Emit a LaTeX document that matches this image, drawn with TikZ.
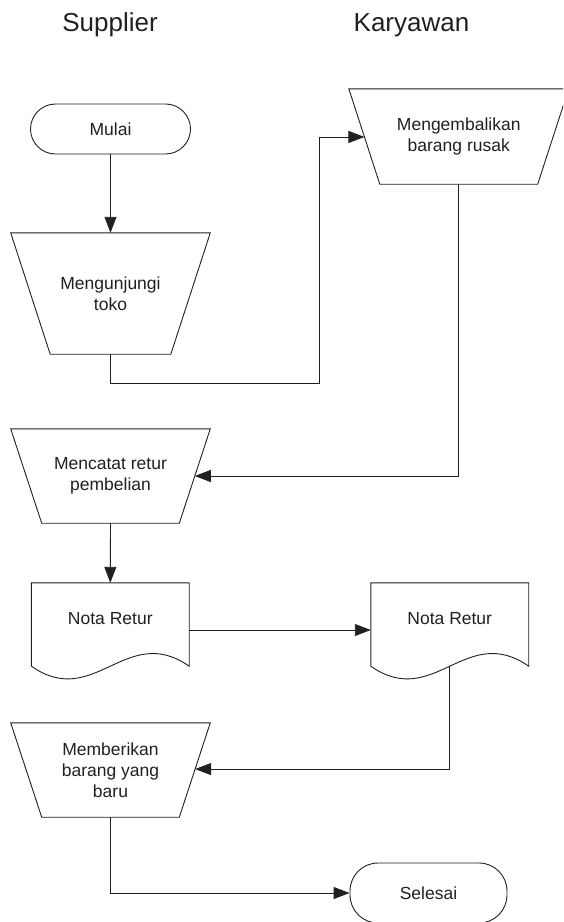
\documentclass[tikz,border=0pt]{standalone}
\usepackage{fontspec}
\setmainfont{Liberation Sans}
\usetikzlibrary{calc,arrows.meta}

\definecolor{ink}{HTML}{231F20}

\tikzset{
  shapeline/.style={draw=ink, line width=0.9pt, line join=miter},
  conn/.style={draw=ink, line width=0.9pt, -{Triangle[length=16pt,width=12pt]}},
  plainconn/.style={draw=ink, line width=0.9pt},
  trapbox/.style={draw=none, inner sep=0pt, align=center, text=ink,
    font=\fontsize{17.5}{21}\selectfont},
  docbox/.style={draw=none, inner sep=0pt, minimum height=94pt, align=center, text=ink,
    text height=12.6pt, text depth=24pt, font=\fontsize{17.5}{21}\selectfont},
  termbox/.style={shapeline, inner sep=0pt, align=center, text=ink,
    font=\fontsize{17.5}{21}\selectfont},
  lanetitle/.style={anchor=base, text=ink, font=\fontsize{26}{30}\selectfont},
}

% trapezoid: name, cx, cy, width, height, inset of the bottom corners, text
\newcommand\trapnode[7]{%
  \node[trapbox, minimum width=#4pt, minimum height=#5pt] (#1) at (#2,#3) {#7};
  \coordinate (#1-bl) at ($(#1.south west)+(#6,0)$);
  \coordinate (#1-br) at ($(#1.south east)+(-#6,0)$);
  \draw[shapeline] (#1.north west) -- (#1.north east) -- (#1-br) -- (#1-bl) -- cycle;
}

% document shape: name, cx, cy, width, text
\newcommand\docnode[5]{%
  \node[docbox, minimum width=#4pt] (#1) at (#2,#3) {#5};
  \coordinate (#1-w) at ($(#1.south)+(0,-11)$);
  \draw[shapeline] ($(#1.south west)+(0,-11)$) -- (#1.north west) -- (#1.north east)
    -- ($(#1.south east)+(0,-11)$)
    .. controls +(-0.4*#4,-44) and +(0.4*#4,44) .. ($(#1.south west)+(0,-11)$);
}

\begin{document}
\begin{tikzpicture}[x=1pt, y=-1pt]
  \useasboundingbox (0,0) rectangle (563,922);
  \clip (0,0) rectangle (563,922);

  % lane titles
  \node[lanetitle] (supplier) at (110,31.5) {Supplier};
  \node[lanetitle] (karyawan) at (411.5,31.5) {Karyawan};

  % terminators
  \node[termbox, minimum width=160pt, minimum height=50pt, rounded corners=25pt]
    (mulai) at (110.5,129) {Mulai};
  \node[termbox, minimum width=157pt, minimum height=60pt, rounded corners=28pt]
    (selesai) at (428.5,893) {Selesai};

  % manual operations
  \trapnode{t1}{110.5}{293.5}{199.2}{121}{39.5}{Mengunjungi\\toko}
  \trapnode{t2}{458.75}{136.5}{219.5}{95}{31}{Mengembalikan\\barang rusak}
  \trapnode{t3}{110.5}{476}{199.2}{94}{31}{Mencatat retur\\pembelian}
  \trapnode{t4}{110.5}{770}{199.2}{94}{31}{Memberikan\\barang yang\\baru}

  % documents
  \docnode{d1}{110.3}{630}{157.4}{Nota Retur}
  \docnode{d2}{449.75}{630}{157.5}{Nota Retur}

  % entry points on the slanted sides
  \coordinate (t2-in) at ($(t2.north west)!0.505!(t2-bl)$);
  \coordinate (t3-in) at ($(t3.north east)!0.5!(t3-br)$);
  \coordinate (t4-in) at ($(t4.north east)!0.49!(t4-br)$);

  % connectors
  \draw[conn] (mulai.south) -- (t1.north);
  \draw[conn] (t1.south) -- ++(0,29) -| ($(t2-in)+(-45,0)$) -- (t2-in);
  \draw[conn] (t2.south) |- (t3-in);
  \draw[conn] (t3.south) -- (d1.north);
  \draw[conn] (d1.east) -- (d2.west);
  \draw[conn] (d2-w) |- (t4-in);
  \draw[conn] (t4.south) |- (selesai.west);
\end{tikzpicture}
\end{document}
